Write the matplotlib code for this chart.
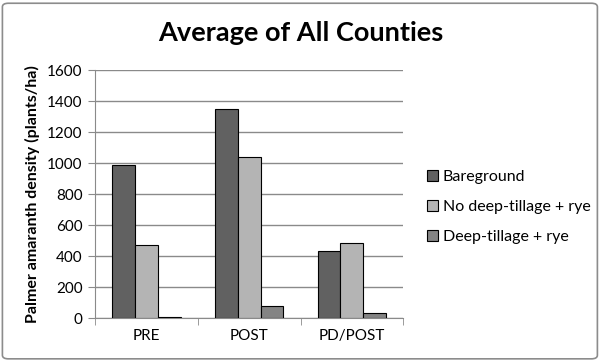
import matplotlib.pyplot as plt
import numpy as np
from matplotlib.patches import FancyBboxPatch

categories = ["PRE", "POST", "PD/POST"]
bareground = [987, 1348, 432]
no_deep = [471, 1040, 484]
deep = [6, 77, 32]
series_names = ["Bareground", "No deep-tillage + rye", "Deep-tillage + rye"]
colors = ["#616161", "#b4b4b4", "#848484"]

plt.rcParams['font.family'] = ['Lato', 'DejaVu Sans']

fig = plt.figure(figsize=(6.01, 3.61), dpi=100)
ax = fig.add_axes([0.158, 0.119, 0.513, 0.687])

# outer chart border
fig.patches.append(FancyBboxPatch((0.004, 0.006), 0.99, 0.985, boxstyle="round,pad=0,rounding_size=0.01",
                                  transform=fig.transFigure, fill=False, edgecolor="#8c8c8c", linewidth=1.2))

x = np.arange(len(categories))
w = 0.223
for i, (vals, name, c) in enumerate(zip([bareground, no_deep, deep], series_names, colors)):
    ax.bar(x + (i - 1) * w, vals, w, color=c, edgecolor="black", linewidth=0.8, label=name, zorder=3)

ax.set_xlim(-0.5, 2.5)
ax.set_ylim(0, 1600)
ax.set_yticks(range(0, 1601, 200))
ax.yaxis.grid(True, color="#8a8a8a", linewidth=1, zorder=0)
ax.set_xticks(x)
ax.set_xticklabels(categories)
ax.set_xticks([-0.5, 0.5, 1.5, 2.5], minor=True)
ax.tick_params(axis='x', which='major', length=0, pad=8, labelsize=11)
ax.tick_params(axis='x', which='minor', length=5, color="#8a8a8a")
ax.tick_params(axis='y', length=5, color="#8a8a8a", labelsize=11, pad=4)
for s in ["top", "right"]:
    ax.spines[s].set_visible(False)
for s in ["left", "bottom"]:
    ax.spines[s].set_color("#8a8a8a")

ax.set_ylabel("Palmer amaranth density (plants/ha)", fontsize=11.5, fontweight="bold", labelpad=5)
fig.text(0.5, 0.909, "Average of All Counties", ha="center", va="center", fontsize=19.5, fontweight="bold")

ax.legend(loc="center left", bbox_to_anchor=(1.03, 0.448), frameon=False, fontsize=11.5,
          handlelength=0.7, handleheight=0.7, handletextpad=0.3, labelspacing=1.0)

fig.savefig("out.png", dpi=100)
